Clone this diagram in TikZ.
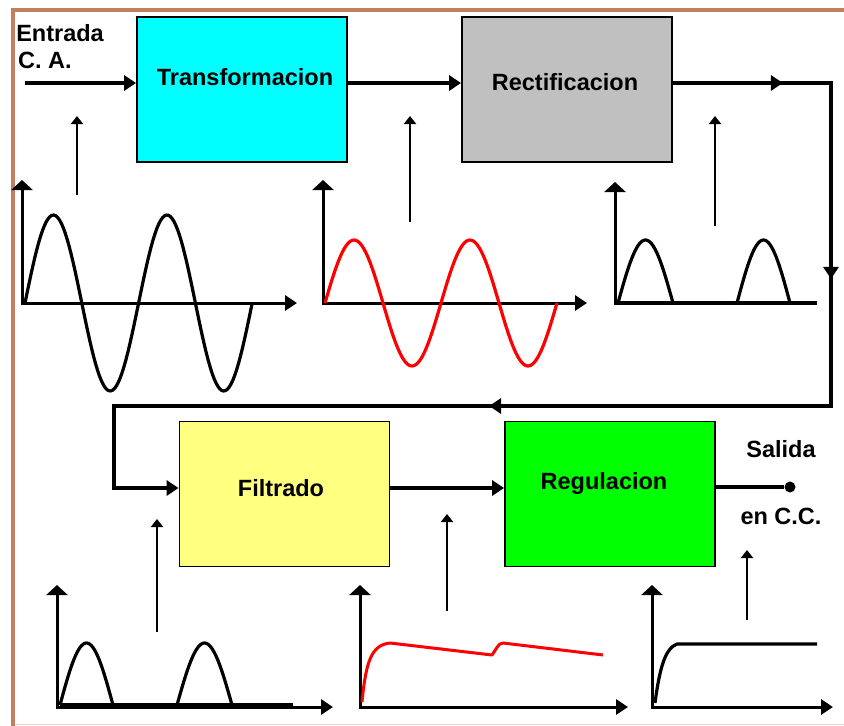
\documentclass[tikz,border=0pt]{standalone}
\usepackage{fontspec}
\setmainfont{Liberation Sans}
\usetikzlibrary{arrows.meta,decorations.markings}
\definecolor{brd}{RGB}{192,128,94}
\definecolor{cyanbox}{RGB}{0,255,255}
\definecolor{graybox}{RGB}{192,192,192}
\definecolor{yelbox}{RGB}{255,255,128}
\definecolor{grnbox}{RGB}{0,255,0}
\definecolor{wred}{RGB}{255,0,0}
\tikzset{
  blk/.style={draw=black, line width=1.8pt, minimum width=210pt, minimum height=145pt, inner sep=0pt},
  lbl/.style={font=\fontsize{23.5}{26}\selectfont\bfseries, inner sep=0pt, text=black},
  flow/.style={line width=3.2pt, -{Triangle[width=15pt,length=12pt]}},
  upar/.style={line width=2.2pt, -{Triangle[width=12pt,length=8pt]}},
  yax/.style={line width=3pt, -{Triangle[width=21pt,length=10pt]}},
  xax/.style={line width=3pt, -{Triangle[width=15pt,length=12pt]}},
  wave/.style={line width=3.2pt, line join=round},
}
\begin{document}
\begin{tikzpicture}[x=1pt,y=-1pt]
\useasboundingbox (0,0) rectangle (844,726);
\fill[white] (0,0) rectangle (844,726);
% border
\draw[brd, line width=4pt] (13,726) -- (13,10) -- (844,10);
\draw[brd!35, line width=1.5pt] (15,724.5) -- (844,724.5);

% blocks
\node[blk, fill=cyanbox] (T) at (242,89.5) {};
\node[blk, fill=graybox] (R) at (567,89.5) {};
\node[blk, fill=yelbox] (F) at (284.5,494) {};
\node[blk, fill=grnbox] (G) at (610,494) {};
\node[lbl] (tT) at (245,77) {Transformacion};
\node[lbl] (tR) at (565,82) {Rectificacion};
\node[lbl] (tF) at (281,488) {Filtrado};
\node[lbl] (tG) at (604,483) {Regulacion};

% texts
\node[lbl] (ent) at (60,33) {Entrada};
\node[lbl] (ca) at (45,60) {C. A.};
\node[lbl] (sal) at (781,449) {Salida};
\node[lbl] (cc) at (781,516) {en C.C.};

% connectors
\coordinate (in) at (25,83);
\draw[flow] (in) -- (T.west |- in);
\draw[flow] (T.east |- in) -- (R.west |- in);
\coordinate (c1) at (831,83);
\coordinate (c2) at (831,406);
\coordinate (c3) at (114,406);
\coordinate (c4) at (114,488);
\draw[flow, line width=3.6pt, line join=miter, postaction={decorate}, decoration={markings,
  mark=at position 110pt with {\arrow{Triangle[width=15pt,length=12pt]}},
  mark=at position 354pt with {\arrow{Triangle[width=15pt,length=12pt]}},
  mark=at position 823pt with {\arrow{Triangle[width=15pt,length=12pt]}}}]
  (R.east |- c1) -- (c1) -- (c2) -- (c3) -- (c4) -- (F.west |- c4);
\draw[flow] (F.east |- c4) -- (G.west |- c4);
\node[circle, fill=black, minimum size=11pt, inner sep=0pt] (out) at (790,487) {};
\draw[line width=3.2pt] (G.east |- out) -- (out);

% small up arrows
\coordinate (u1a) at (77,195); \coordinate (u1b) at (77,116);
\coordinate (u2a) at (410,222); \coordinate (u2b) at (410,116);
\coordinate (u3a) at (715,226); \coordinate (u3b) at (715,116);
\coordinate (u4a) at (157,632); \coordinate (u4b) at (157,519);
\coordinate (u5a) at (447,611); \coordinate (u5b) at (447,514);
\coordinate (u6a) at (747,620); \coordinate (u6b) at (747,550);
\foreach \a/\b in {u1a/u1b,u2a/u2b,u3a/u3b,u4a/u4b,u5a/u5b,u6a/u6b}
  \draw[upar] (\a) -- (\b);

% graph 1 : black sine
\draw[xax] (21,303) -- (297,303);
\draw[yax] (22,304) -- (22,180);
\draw[wave] plot[domain=0:720, samples=120] ({25+\x/180*56.8}, {303-88*sin(\x)});

% graph 2 : red sine
\draw[xax] (322,303) -- (587,303);
\draw[yax] (323,304) -- (323,180);
\draw[wave, wred] plot[domain=0:720, samples=120] ({325+\x/180*58}, {303-63*sin(\x)});

% graph 3 : rectified
\draw[line width=3.5pt] (614,303) -- (817,303);
\draw[yax] (615,304) -- (615,182);
\draw[wave] plot[domain=0:180, samples=40] ({618+\x/180*55}, {303-63*sin(\x)});
\draw[wave] plot[domain=0:180, samples=40] ({737+\x/180*53}, {303-63*sin(\x)});

% graph 4 : rectified (bottom left)
\draw[xax] (56,707) -- (333,707);
\draw[line width=3pt] (60,704) -- (293,704);
\draw[yax] (57,708) -- (57,585);
\draw[wave] plot[domain=0:180, samples=40] ({60+\x/180*53}, {705-62*sin(\x)});
\draw[wave] plot[domain=0:180, samples=40] ({177+\x/180*55}, {705-62*sin(\x)});

% graph 5 : filtered (red)
\draw[xax] (359,707) -- (628,707);
\draw[yax] (360,708) -- (360,585);
\draw[wave, wred, line width=3pt] (362,702) .. controls (366,660) and (372,645) .. (390,643)
  -- (492,655) .. controls (496,650) and (498,643) .. (503,643) -- (603,655);

% graph 6 : regulated
\draw[xax] (651,707) -- (833,707);
\draw[yax] (652,708) -- (652,585);
\draw[wave] (655,703) .. controls (660,665) and (666,648) .. (677,644) -- (817,644);
\end{tikzpicture}
\end{document}
